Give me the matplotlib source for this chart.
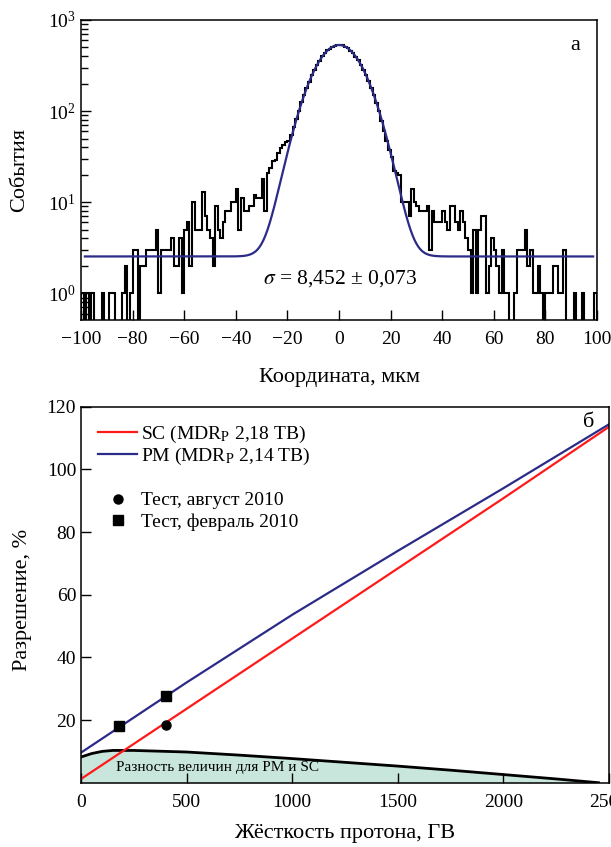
import numpy as np
import matplotlib
matplotlib.use('Agg')
import matplotlib.pyplot as plt
from matplotlib.ticker import LogLocator, NullFormatter, MultipleLocator

plt.rcParams['font.family'] = ['Liberation Serif', 'DejaVu Serif']
plt.rcParams['mathtext.fontset'] = 'stix'

# ---- panel a: residuals histogram, 1 um bins from -100 to 100 ----
bin_edges = np.arange(-100, 101, 1)

counts_left = [1, 0, 1, 0, 1, 0, 0, 0, 1, 0, 0, 1, 1, 0, 0, 0, 1, 2, 0, 1,
               3, 3, 0, 2, 2, 3, 3, 3, 3, 5, 1, 3, 3, 3, 3, 4, 2, 2, 4, 1,
               5, 6, 2, 10, 5, 5, 5, 13, 7, 5, 4, 2, 9, 5, 4, 6, 8, 8, 10, 10,
               14, 5, 11, 8, 8, 9, 9, 12, 11, 11, 18, 8, 21, 24, 28, 29, 35, 39, 42, 46,
               47, 55, 67, 82, 100, 125, 149, 181, 210, 248, 283, 324, 358, 398, 429, 464, 486, 510, 522, 532]

counts_right = [530, 525, 507, 489, 460, 433, 395, 361, 320, 286, 246, 214, 178, 151, 122, 100, 78, 60, 47, 37,
                31, 22, 21, 20, 10, 10, 10, 7, 14, 10, 9, 8, 8, 8, 9, 3, 8, 6, 6, 6,
                8, 6, 5, 9, 9, 6, 5, 8, 6, 4, 3, 1, 5, 1, 5, 7, 7, 1, 2, 4,
                3, 2, 1, 3, 1, 1, 0, 0, 1, 3, 3, 3, 5, 2, 3, 1, 1, 2, 1, 0,
                1, 1, 1, 2, 2, 1, 1, 3, 0, 0, 0, 1, 0, 0, 1, 0, 0, 0, 0, 1]

# Gaussian fit + flat background
fit_amp = 529.0
fit_sigma = 8.452
fit_bkg = 2.54

# ---- panel b: momentum resolution vs rigidity ----
rig_sc = [0, 500, 1000, 1500, 2000, 2500]
res_sc = [1.2, 23.6, 46.0, 68.4, 90.8, 113.6]

rig_pm = [0, 500, 1000, 1500, 2000, 2500]
res_pm = [9.6, 32.0, 53.6, 74.0, 94.0, 114.4]

rig_diff = [0, 50, 100, 150, 250, 500, 750, 1000, 1250, 1500, 1750, 2000, 2250, 2450]
res_diff = [8.2, 9.3, 10.0, 10.3, 10.3, 9.8, 8.8, 7.7, 6.5, 5.3, 4.0, 2.6, 1.2, 0.0]

test_aug_x = [400]
test_aug_y = [18.5]
test_feb_x = [180, 400]
test_feb_y = [18.2, 27.6]

navy = '#2b2b88'
red = '#ff1a1a'
mint = '#c8e6dc'

fig = plt.figure(figsize=(6.11, 8.47), dpi=100)
ax1 = fig.add_axes([0.1326, 0.6222, 0.8445, 0.3542])
ax2 = fig.add_axes([0.1326, 0.0759, 0.8642, 0.4439])

# panel a
counts = np.array(counts_left + counts_right, dtype=float)
counts_plot = np.where(counts > 0, counts, 1e-3)
ax1.stairs(counts_plot, bin_edges, color='black', lw=1.5)

xf = np.linspace(-98.5, 98.5, 800)
yf = fit_amp * np.exp(-xf**2 / (2 * fit_sigma**2)) + fit_bkg
ax1.plot(xf, yf, color=navy, lw=1.6)

ax1.set_yscale('log')
ax1.set_xlim(-100, 100)
ax1.set_ylim(0.51, 1000)
ax1.xaxis.set_major_locator(MultipleLocator(20))
ax1.yaxis.set_major_locator(LogLocator(base=10, numticks=10))
ax1.yaxis.set_minor_locator(LogLocator(base=10, subs=np.arange(2, 10), numticks=20))
ax1.yaxis.set_minor_formatter(NullFormatter())
ax1.tick_params(axis='both', which='major', direction='in', length=7, width=1,
                labelsize=14, top=False, right=False)
ax1.tick_params(axis='x', pad=8)
ax1.tick_params(axis='y', which='minor', direction='in', length=5, width=1, right=False)
ax1.tick_params(axis='x', which='minor', bottom=False)
ax1.set_xlabel('Координата, мкм', fontsize=16)
ax1.set_ylabel('События', fontsize=16)
ax1.xaxis.set_label_coords(0.5, -0.16)
ax1.yaxis.set_label_coords(-0.1, 0.5)
ax1.text(0.2, 1.45, '$\\sigma$ = 8,452 ± 0,073', fontsize=15.5, ha='center', va='center')
ax1.text(0.957, 0.915, 'а', transform=ax1.transAxes, fontsize=16, ha='center', va='center')

# panel b
ax2.fill_between(rig_diff, res_diff, 0, color=mint, lw=0)
ax2.plot(rig_diff, res_diff, color='black', lw=2)
l_sc, = ax2.plot(rig_sc, res_sc, color=red, lw=1.6)
l_pm, = ax2.plot(rig_pm, res_pm, color=navy, lw=1.6)
m_aug, = ax2.plot(test_aug_x, test_aug_y, 'o', color='black', ms=6.5)
m_feb, = ax2.plot(test_feb_x, test_feb_y, 's', color='black', ms=6.5)
ax2.text(165, 5.0, 'Разность величин для PM и SC', fontsize=11, ha='left', va='center')
ax2.text(0.962, 0.958, 'б', transform=ax2.transAxes, fontsize=16, ha='center', va='center')

ax2.set_xlim(0, 2500)
ax2.set_ylim(0, 120)
ax2.xaxis.set_major_locator(MultipleLocator(500))
ax2.yaxis.set_major_locator(MultipleLocator(20))
ax2.tick_params(axis='both', which='major', direction='in', length=7, width=1,
                labelsize=14, top=False, right=False)
ax2.tick_params(axis='x', pad=8)
ax2.set_yticks([20, 40, 60, 80, 100, 120])
ax2.set_xlabel('Жёсткость протона, ГВ', fontsize=16)
ax2.set_ylabel('Разрешение, %', fontsize=16)
ax2.xaxis.set_label_coords(0.5, -0.11)
ax2.yaxis.set_label_coords(-0.092, 0.485)

# two legend blocks: model lines, then beam tests
leg_kw = dict(loc='upper left', frameon=False, fontsize=14, handlelength=2.0,
              handletextpad=0.2, borderpad=0, borderaxespad=0)
leg_lines = ax2.legend([l_sc, l_pm],
                       ['SC (MDR$_{\\rm P}$ 2,18 ТВ)', 'PM (MDR$_{\\rm P}$ 2,14 ТВ)'],
                       bbox_to_anchor=(0.033, 0.955), labelspacing=0.07, **leg_kw)
ax2.add_artist(leg_lines)
ax2.legend([m_aug, m_feb], ['Тест, август 2010', 'Тест, февраль 2010'],
           bbox_to_anchor=(0.033, 0.774), labelspacing=0.2, **leg_kw)

for ax in (ax1, ax2):
    for s in ax.spines.values():
        s.set_linewidth(1.1)

fig.savefig('out.png', dpi=100)
